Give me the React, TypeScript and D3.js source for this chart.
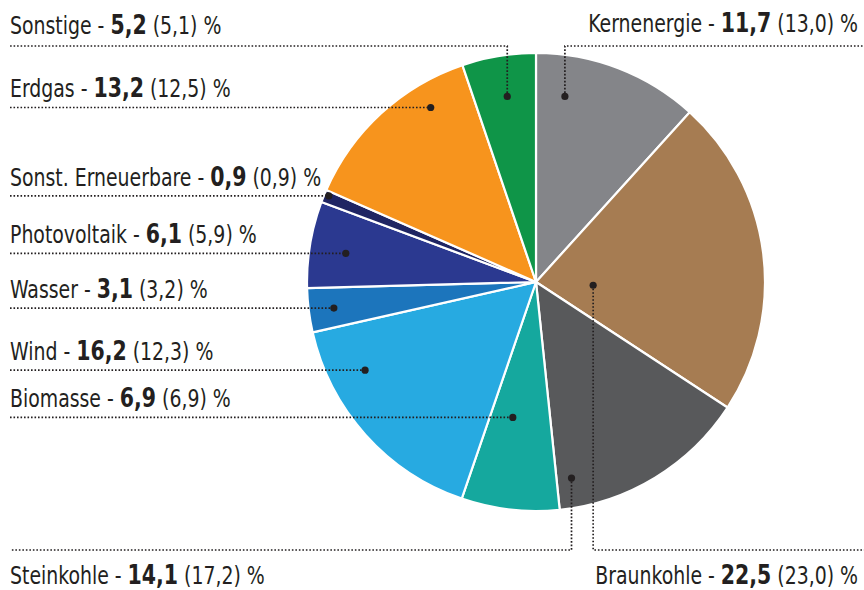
import React from 'react';
import * as d3 from 'd3';

// Stromerzeugung nach Energieträgern, Anteil in % (Vorjahr in Klammern)
const names = ['Kernenergie', 'Braunkohle', 'Steinkohle', 'Biomasse', 'Wind', 'Wasser', 'Photovoltaik', 'Sonst. Erneuerbare', 'Erdgas', 'Sonstige'];
const shares = [11.7, 22.5, 14.1, 6.9, 16.2, 3.1, 6.1, 0.9, 13.2, 5.2];
const previous = [13.0, 23.0, 17.2, 6.9, 12.3, 3.2, 5.9, 0.9, 12.5, 5.1];
const colors = ['#848589', '#a67c52', '#58595b', '#15a89e', '#27aae1', '#1c75bc', '#2b3990', '#1f2563', '#f7941d', '#0f9548'];

// where the leader dot sits inside each slice: fraction of slice angle, fraction of radius
const dotAngle = [0.21, 0.63, 0.915, 0.63, 0.75, 0.48, 0.46, 0.65, 0.74, 0.53];
const dotRadius = [0.82, 0.25, 0.87, 0.6, 0.84, 0.89, 0.84, 0.98, 0.89, 0.82];
// how the leader runs: left = straight to the left margin, topLeft/topRight = up then sideways, bottomLeft/bottomRight = down then sideways
const leader = ['topRight', 'bottomRight', 'bottomLeft', 'left', 'left', 'left', 'left', 'left', 'left', 'topLeft'];

const fmt = (v: number) => d3.format('.1f')(v).replace('.', ',');

export default function App() {
  const width = 864;
  const height = 590;
  const cx = 536;
  const cy = 282;
  const r = 229;
  const topY = 46;
  const bottomY = 550;
  const leftX = 10;
  const rightX = 864;
  const squeeze = 0.875; // the original uses a condensed face

  const data = names.map((n, i) => ({ name: n, value: shares[i], prev: previous[i], i }));
  const pie = d3.pie<any>().value(d => d.value).sort(null);
  const arcs = pie(data);
  const arc = d3.arc<any>().innerRadius(0).outerRadius(r);

  const font = "'DejaVu Sans Condensed', 'DejaVu Sans', sans-serif";
  const ink = '#231f20';
  const dash = { stroke: ink, strokeWidth: 1.7, strokeDasharray: '1.6 1.9', fill: 'none' };

  const label = (d: any, x: number, y: number, anchor: string) => (
    <g transform={`translate(${x},${y}) scale(${squeeze},1)`}>
      <text x={0} y={0} textAnchor={anchor} fontFamily={font} fontSize={24} fill={ink}>
        {d.name} - <tspan fontWeight="bold" fontSize={26}>{fmt(d.value)}</tspan> ({fmt(d.prev)}) %
      </text>
    </g>
  );

  return (
    <svg width={width} height={height} style={{ position: 'absolute', left: 0, top: 0, background: '#fff' }}>
      <g transform={`translate(${cx},${cy})`}>
        {arcs.map((a, i) => (
          <path key={i} d={arc(a) as string} fill={colors[i]} stroke="#fff" strokeWidth={2.2} strokeLinejoin="round" />
        ))}
      </g>
      {arcs.map((a, i) => {
        const ang = a.startAngle + (a.endAngle - a.startAngle) * dotAngle[i];
        const rr = r * dotRadius[i];
        const px = cx + rr * Math.sin(ang);
        const py = cy - rr * Math.cos(ang);
        const kind = leader[i];
        let path = '';
        let text = null;
        if (kind === 'left') {
          path = `M${leftX},${py}H${px}`;
          text = label(a.data, leftX, py - 10, 'start');
        } else if (kind === 'topLeft') {
          path = `M${px},${py}V${topY}H${leftX}`;
          text = label(a.data, leftX, topY - 12, 'start');
        } else if (kind === 'topRight') {
          path = `M${px},${py}V${topY}H${rightX}`;
          text = label(a.data, 858, topY - 14, 'end');
        } else if (kind === 'bottomLeft') {
          path = `M${px},${py}V${bottomY}H${leftX}`;
          text = label(a.data, leftX, bottomY + 34, 'start');
        } else {
          path = `M${px},${py}V${bottomY}H${rightX}`;
          text = label(a.data, 858, bottomY + 34, 'end');
        }
        return (
          <g key={'l' + i}>
            <path d={path} style={dash} />
            <circle cx={px} cy={py} r={3.6} fill={ink} />
            {text}
          </g>
        );
      })}
    </svg>
  );
}
